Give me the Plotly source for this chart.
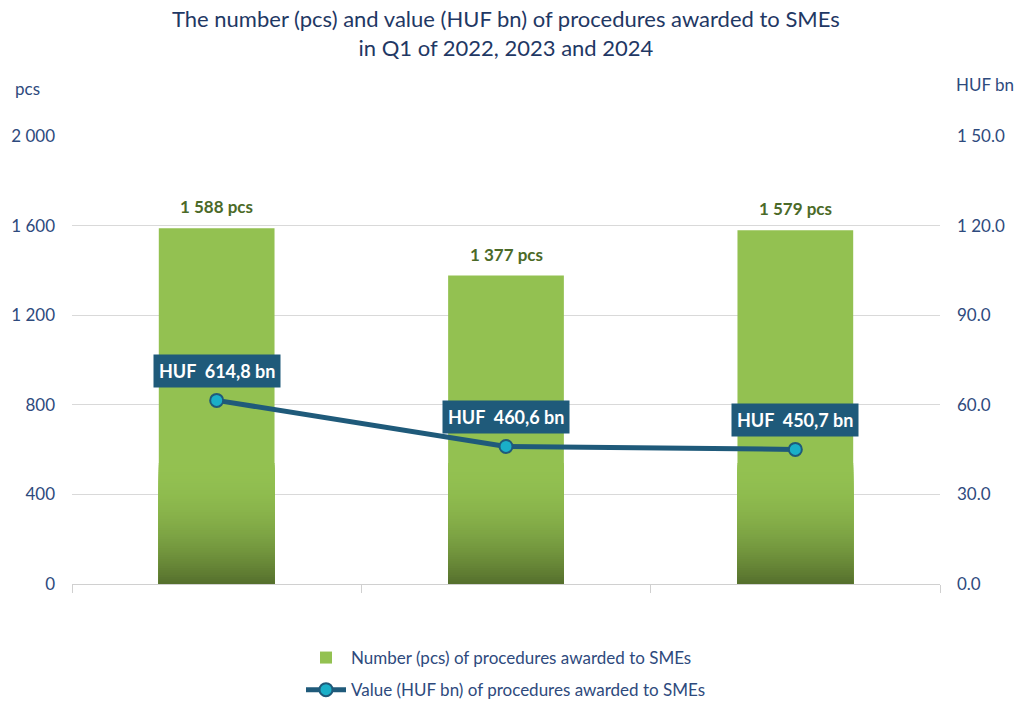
import numpy as np
import plotly.graph_objects as go

# ---- data ----
categories = ["Q1 2022", "Q1 2023", "Q1 2024"]
bar_values = [1588, 1377, 1579]                 # pcs
line_values = [61.48, 46.06, 45.07]             # as plotted on right axis
line_labels = ["HUF  614,8 bn", "HUF  460,6 bn", "HUF  450,7 bn"]
left_tickvals = [0, 400, 800, 1200, 1600, 2000]
left_ticktext = ["0", "400", "800", "1 200", "1 600", "2 000"]
right_tickvals = [0, 30, 60, 90, 120, 150]
right_ticktext = ["0.0", "30.0", "60.0", "90.0", "1 20.0", "1 50.0"]
bar_name = "Number (pcs) of procedures awarded to SMEs"
line_name = "Value (HUF bn) of procedures awarded to SMEs"
title_text = "The number (pcs) and value (HUF bn) of procedures awarded to SMEs<br>in Q1 of 2022, 2023 and 2024"

FONT = "Lato"
NAVY = "#1F3864"
TICK = "#2E4A7D"
GREEN = "#93C151"
DARK = "#56702D"
LINE = "#1F5A7A"
MARK = "#1AAFC8"

bar_text = ["<b>" + f"{v:,}".replace(",", " ") + " pcs</b>" for v in bar_values]

fig = go.Figure()
fig.add_trace(go.Bar(
    x=categories, y=bar_values, name=bar_name, marker_color=GREEN, marker_opacity=1,
    marker_line_width=0, width=0.4, legendgroup="bars",
))

# gradient toward the bottom of each bar (styling overlays)
def mix(c1, c2, t):
    a = [int(c1[i:i + 2], 16) for i in (1, 3, 5)]
    b = [int(c2[i:i + 2], 16) for i in (1, 3, 5)]
    return "#" + "".join(f"{round(a[k] + (b[k] - a[k]) * t):02x}" for k in range(3))

levels = np.linspace(540, 10, 54)
for i, lv in enumerate(levels):
    t = (i + 1) / len(levels)
    fig.add_trace(go.Bar(
        x=categories, y=np.minimum(bar_values, lv), marker_color=mix(GREEN, DARK, t ** 2),
        marker_opacity=1, marker_line_width=0, width=0.4, showlegend=False, hoverinfo="skip",
    ))

fig.add_trace(go.Scatter(
    x=categories, y=line_values, name=line_name, yaxis="y2", mode="lines+markers",
    legendgroup="line",
    line=dict(color=LINE, width=5),
    marker=dict(size=13, color=MARK, line=dict(color=LINE, width=2)),
))

for c, v, lab in zip(categories, bar_values, bar_text):
    fig.add_annotation(
        x=c, y=v, text=lab, showarrow=False, yanchor="bottom", yshift=9,
        font=dict(family=FONT, size=17, color="#4B6A28"),
    )

for c, v, lab in zip(categories, line_values, line_labels):
    fig.add_annotation(
        x=c, y=v, yref="y2", text=f"<b>{lab}</b>", showarrow=False, yshift=29,
        bgcolor=LINE, borderpad=5, font=dict(family=FONT, size=18, color="white"),
    )

fig.add_annotation(text=title_text, x=0.5, y=1.23, xref="paper", yref="paper", showarrow=False,
                   xanchor="center", yanchor="middle",
                   font=dict(family=FONT, size=22, color=NAVY))
fig.add_annotation(text="pcs", x=-0.0507, y=1.107, xref="paper", yref="paper", showarrow=False,
                   font=dict(family=FONT, size=17, color=TICK), xanchor="center", yanchor="middle")
fig.add_annotation(text="HUF bn", x=1.0518, y=1.114, xref="paper", yref="paper", showarrow=False,
                   font=dict(family=FONT, size=17, color=TICK), xanchor="center", yanchor="middle")

fig.update_layout(
    width=1020, height=706,
    margin=dict(l=72, r=80, t=136, b=122, autoexpand=False),
    paper_bgcolor="white", plot_bgcolor="white",
    barmode="overlay",
    font=dict(family=FONT, color=TICK, size=16),
    xaxis=dict(showticklabels=False, tickson="boundaries", ticks="outside", ticklen=8,
               tickcolor="#D0D0D0", showline=True, linecolor="#D0D0D0", linewidth=1,
               showgrid=False, range=[-0.5, 2.5]),
    yaxis=dict(range=[0, 2000], tickvals=left_tickvals, ticktext=left_ticktext,
               showgrid=True, gridcolor="#D9D9D9", gridwidth=1, zeroline=False,
               ticks="", ticklabelstandoff=16, tickfont=dict(family=FONT, size=17, color=TICK)),
    yaxis2=dict(range=[0, 150], tickvals=right_tickvals, ticktext=right_ticktext,
                overlaying="y", side="right", showgrid=False, zeroline=False,
                ticks="", ticklabelstandoff=16, tickfont=dict(family=FONT, size=17, color=TICK)),
    legend=dict(orientation="v", x=0.5, xanchor="center", y=-0.125, yanchor="top",
                font=dict(family=FONT, size=17, color=TICK), tracegroupgap=7, itemwidth=40,
                traceorder="grouped"),
    showlegend=True,
)

fig.write_html("out.html", config={"displayModeBar": False},
               post_script="document.body.style.margin='0';document.body.style.overflow='hidden';")
